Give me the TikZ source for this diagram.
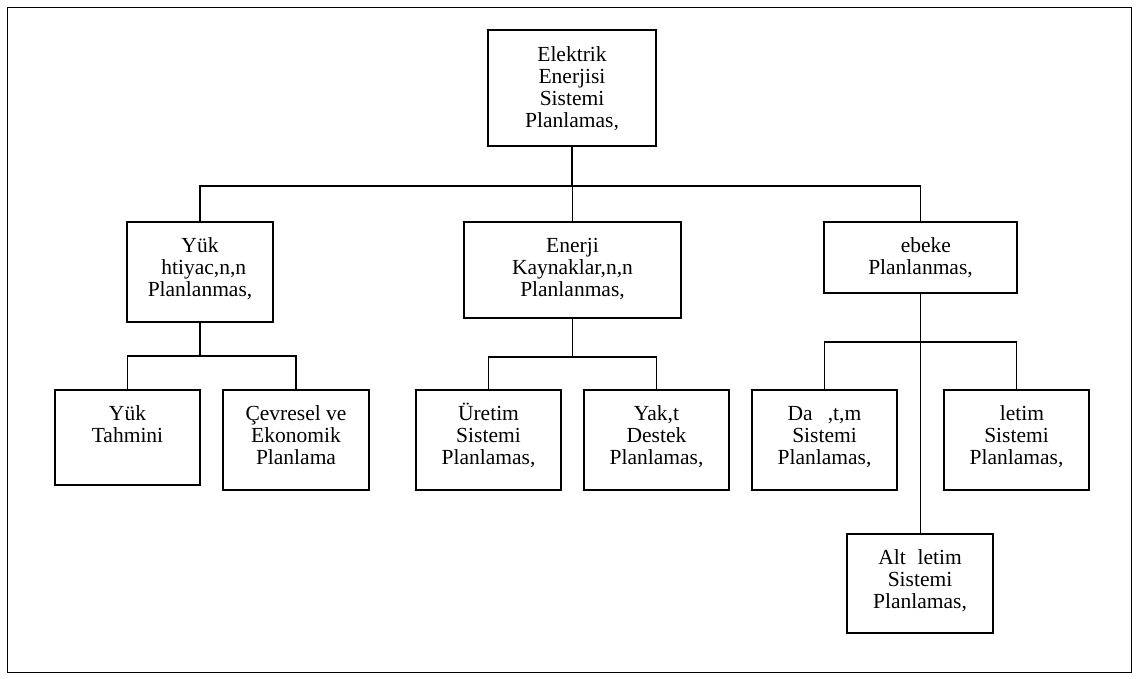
\documentclass[tikz,border=0pt]{standalone}
\usepackage{fontspec}
\setmainfont{Liberation Serif}
\begin{document}
\begin{tikzpicture}[x=1pt,y=-1pt,
  box/.style={draw,line width=1.8pt,rectangle,inner sep=0pt},
  txt/.style={anchor=base,inner sep=0pt,font=\fontsize{21.5}{22}\selectfont},
  link/.style={line width=1.8pt}]
\useasboundingbox (0,0) rectangle (1138,679);
\draw[line width=0.8pt] (7,7) rectangle (1131,672);

% boxes
\node[box,minimum width=168pt,minimum height=116pt] (A)  at (572,88) {};
\node[box,minimum width=146pt,minimum height=100pt] (B1) at (200,272) {};
\node[box,minimum width=217pt,minimum height=96pt]  (B2) at (572.5,270) {};
\node[box,minimum width=193pt,minimum height=71pt]  (B3) at (920.5,257.5) {};
\node[box,minimum width=145pt,minimum height=95pt]  (C1) at (127.5,437.5) {};
\node[box,minimum width=146pt,minimum height=100pt] (C2) at (296,440) {};
\node[box,minimum width=145pt,minimum height=100pt] (C3) at (488.5,440) {};
\node[box,minimum width=145pt,minimum height=100pt] (C4) at (656.5,440) {};
\node[box,minimum width=145pt,minimum height=100pt] (C5) at (824.5,440) {};
\node[box,minimum width=145pt,minimum height=100pt] (C6) at (1016.5,440) {};
\node[box,minimum width=146pt,minimum height=99pt]  (C7) at (920,583.5) {};

% labels
\node[txt] (tA)  at (572,61.5) {\begin{tabular}[t]{@{}c@{}}Elektrik\\Enerjisi\\Sistemi\\Planlamas,\end{tabular}};
\node[txt] (tB1) at (200,252) {\begin{tabular}[t]{@{}c@{}}Yük\\\hspace*{0.35em}htiyac,n,n\\Planlanmas,\end{tabular}};
\node[txt] (tB2) at (572.5,252) {\begin{tabular}[t]{@{}c@{}}Enerji\\Kaynaklar,n,n\\Planlanmas,\end{tabular}};
\node[txt] (tB3) at (920.5,252) {\begin{tabular}[t]{@{}c@{}}\hspace*{0.5em}ebeke\\Planlanmas,\end{tabular}};
\node[txt] (tC1) at (127.5,420) {\begin{tabular}[t]{@{}c@{}}Yük\\Tahmini\end{tabular}};
\node[txt] (tC2) at (296,420) {\begin{tabular}[t]{@{}c@{}}Çevresel ve\\Ekonomik\\Planlama\end{tabular}};
\node[txt] (tC3) at (488.5,420) {\begin{tabular}[t]{@{}c@{}}Üretim\\Sistemi\\Planlamas,\end{tabular}};
\node[txt] (tC4) at (656.5,420) {\begin{tabular}[t]{@{}c@{}}Yak,t\\Destek\\Planlamas,\end{tabular}};
\node[txt] (tC5) at (824.5,420) {\begin{tabular}[t]{@{}c@{}}Da\hspace{0.7em},t,m\\Sistemi\\Planlamas,\end{tabular}};
\node[txt] (tC6) at (1016.5,420) {\begin{tabular}[t]{@{}c@{}}\hspace*{0.5em}letim\\Sistemi\\Planlamas,\end{tabular}};
\node[txt] (tC7) at (920,564) {\begin{tabular}[t]{@{}c@{}}Alt\hspace{0.55em}letim\\Sistemi\\Planlamas,\end{tabular}};

% connectors
\draw[link] (A.south) -- (A.south |- 0,186) coordinate (jA);
\draw[link] (B1.north) |- (jA) -| (B3.north);
\draw[link] (jA) -| (B2.north);

\draw[link] (B1.south) -- (B1.south |- 0,356) coordinate (jB1);
\draw[link] (C1.north) |- (jB1) -| (C2.north);

\draw[link] (B2.south) -- (B2.south |- 0,357) coordinate (jB2);
\draw[link] (C3.north) |- (jB2) -| (C4.north);

\draw[link] (B3.south) -- (B3.south |- 0,342) coordinate (jB3);
\draw[link] (C5.north) |- (jB3) -| (C6.north);
\draw[link] (jB3) -- (jB3 |- C7.north);
\end{tikzpicture}
\end{document}
